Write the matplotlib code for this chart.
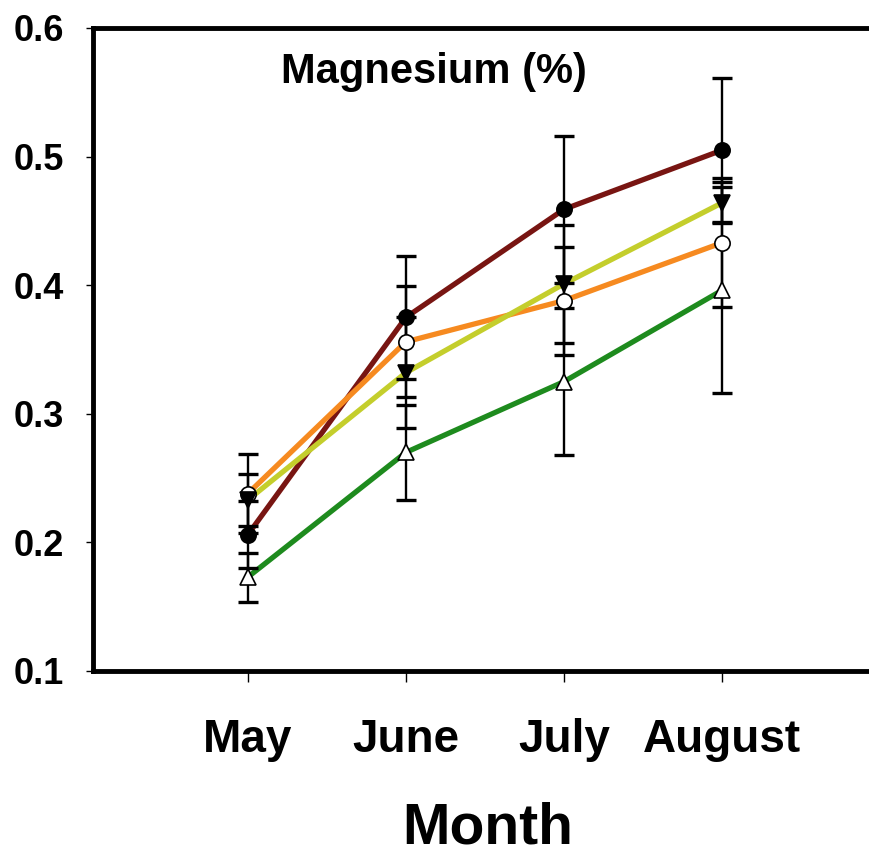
import matplotlib
matplotlib.use("Agg")
import matplotlib.pyplot as plt

months = ["May", "June", "July", "August"]
x_pos = [1, 2, 3, 4]

dark_red_vals = [0.206, 0.375, 0.459, 0.505]
dark_red_err = [0.026, 0.048, 0.057, 0.056]
orange_vals = [0.238, 0.356, 0.388, 0.433]
orange_err = [0.031, 0.043, 0.042, 0.050]
yellow_vals = [0.233, 0.332, 0.401, 0.464]
yellow_err = [0.020, 0.043, 0.046, 0.016]
green_vals = [0.173, 0.270, 0.325, 0.396]
green_err = [0.019, 0.037, 0.057, 0.080]

yticks = [0.1, 0.2, 0.3, 0.4, 0.5, 0.6]
ytick_labels = ["0.1", "0.2", "0.3", "0.4", "0.5", "0.6"]

plt.rcParams['font.family'] = ['Liberation Sans', 'DejaVu Sans']
plt.rcParams['font.weight'] = 'bold'

W, H = 869, 859
fig = plt.figure(figsize=(W / 100, H / 100), dpi=100)
left = 93 / W
bottom = (H - 671) / H
height = (671 - 28) / H
width = 787 / W
ax = fig.add_axes([left, bottom, width, height])

series = [
    (dark_red_vals, dark_red_err, "#781512", "o", "black", "black"),
    (orange_vals, orange_err, "#F68A20", "o", "white", "black"),
    (yellow_vals, yellow_err, "#C4CE2C", "v", "black", "black"),
    (green_vals, green_err, "#1E8B1E", "^", "white", "black"),
]

for vals, err, col, mk, fc, ec in series:
    ax.plot(x_pos, vals, color=col, lw=3.8, zorder=3, solid_capstyle='round')
for vals, err, col, mk, fc, ec in series:
    ax.errorbar(x_pos, vals, yerr=err, fmt='none', ecolor='black',
                elinewidth=1.7, capsize=7, capthick=2.4, zorder=4)
for vals, err, col, mk, fc, ec in series:
    ax.plot(x_pos, vals, linestyle='none', marker=mk, markersize=11,
            markerfacecolor=fc, markeredgecolor=ec, markeredgewidth=1.2, zorder=5)

ax.set_xlim(0.02, 5.0)
ax.set_ylim(0.1, 0.6)
ax.set_yticks(yticks)
ax.set_yticklabels(ytick_labels, fontsize=26, fontweight='bold')
ax.set_xticks(x_pos)
ax.set_xticklabels(months, fontsize=33, fontweight='bold')
ax.tick_params(axis='y', direction='out', length=5, width=1, pad=16)
ax.tick_params(axis='x', direction='out', length=8, width=1, pad=26)

for s in ax.spines.values():
    s.set_linewidth(3.5)
    s.set_color('black')

fig.text(434 / W, (H - 83) / H, "Magnesium (%)", ha='center', va='baseline',
         fontsize=30, fontweight='bold')
fig.text(488 / W, 3 / H, "Month", ha='center', va='bottom',
         fontsize=41, fontweight='bold')

fig.savefig("out.png", dpi=100)
